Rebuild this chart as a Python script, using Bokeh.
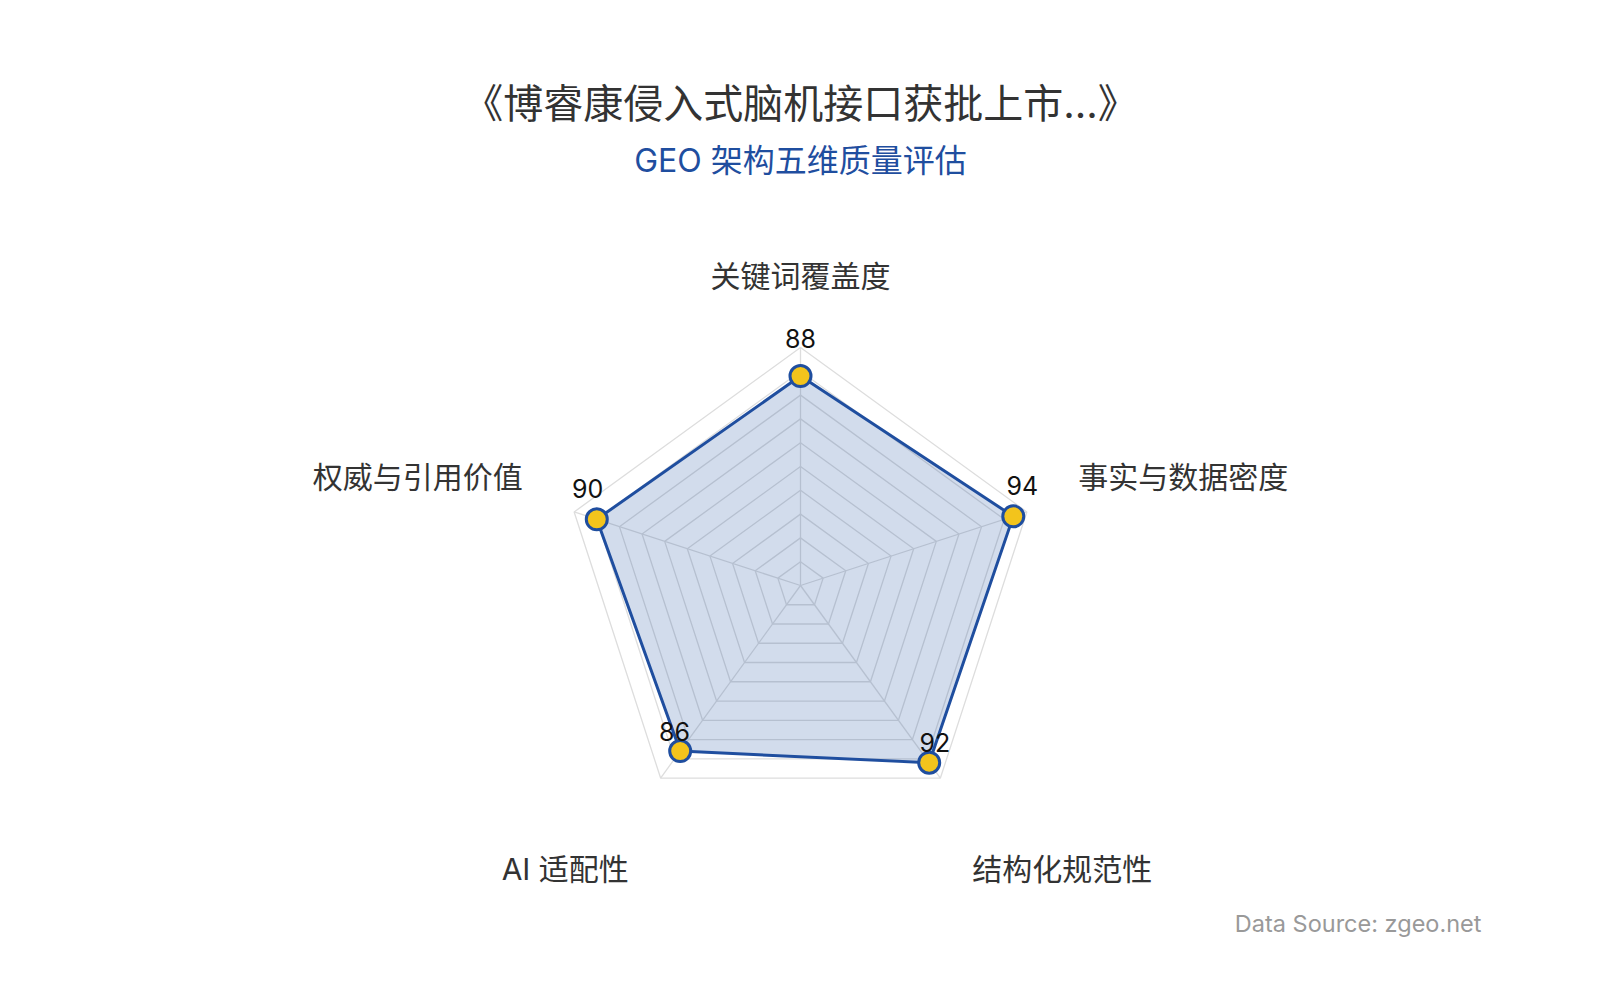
import numpy as np
from bokeh.plotting import figure
from bokeh.models import Range1d, ColumnDataSource
from bokeh.core.properties import value
from bokeh.embed import file_html
from bokeh.resources import INLINE

# 数据
dimensions = ["关键词覆盖度", "事实与数据密度", "结构化规范性", "AI 适配性", "权威与引用价值"]
scores = [88, 94, 92, 86, 90]
max_score = 100
levels = [10, 20, 30, 40, 50, 60, 70, 80, 90, 100]

title = "《博睿康侵入式脑机接口获批上市...》"
subtitle = "GEO 架构五维质量评估"
source_note = "Data Source: zgeo.net"

# 画布: 100 分 = 238 像素
W, H = 1584, 984
CX, CY = 800, 585
PX = max_score / 238.0

CJK = "Inter, 'Noto Sans CJK SC', sans-serif"
BLUE = "#1f4e9f"

p = figure(width=W, height=H, output_backend="svg", toolbar_location=None, tools="",
           x_axis_type=None, y_axis_type=None, min_border=0,
           x_range=Range1d(-CX * PX, (W - CX) * PX),
           y_range=Range1d(-(H - CY) * PX, CY * PX))
p.grid.visible = False
p.outline_line_color = None
p.background_fill_color = "white"
p.border_fill_color = "white"

n = len(dimensions)
ang = np.radians(90 - 360.0 / n * np.arange(n))
ca, sa = np.cos(ang), np.sin(ang)

# 网格环与轴线
for lv in levels:
    xs = list(lv * ca) + [lv * ca[0]]
    ys = list(lv * sa) + [lv * sa[0]]
    p.line(xs, ys, line_color="#dddddd", line_width=1.3)
for i in range(n):
    p.line([0, max_score * ca[i]], [0, max_score * sa[i]], line_color="#dddddd", line_width=1.3)

# 数据区域
sc = np.array(scores, dtype=float)
px_ = sc * ca
py_ = sc * sa
p.patch(list(px_), list(py_), fill_color=BLUE, fill_alpha=0.2, line_color=BLUE, line_width=3)
p.scatter(px_, py_, size=21, fill_color="#f3c41c", line_color=BLUE, line_width=3)

# 数值标签
lab = ColumnDataSource(dict(
    x=px_ + 9.5 * ca * PX,
    y=py_ + (28 + 10 * sa) * PX,
    t=[str(s) for s in scores]))
p.text("x", "y", text="t", source=lab, text_align="center", text_baseline="middle",
       text_font=value(CJK), text_font_size="25px", text_color="#111111")

# 维度名称
rl = max_score + 54 * PX
nx = rl * ca
ny = rl * sa - np.where(sa < 0, 29 * PX, 0)
aligns = ["center" if abs(c) < 0.01 else ("left" if c > 0 else "right") for c in ca]
bases = ["bottom" if s > 0 else "top" for s in sa]
for i in range(n):
    p.text([nx[i]], [ny[i]], text=[dimensions[i]], text_align=aligns[i], text_baseline=bases[i],
           text_font=value(CJK), text_font_size="30px", text_color="#333333")

# 标题、副标题、数据来源
p.text([0], [(CY - 103) * PX], text=[title], text_align="center", text_baseline="middle",
       text_font=value(CJK), text_font_size="40px", text_color="#333333")
p.text([0], [(CY - 160) * PX], text=[subtitle], text_align="center", text_baseline="middle",
       text_font=value(CJK), text_font_size="32px", text_color=BLUE)
p.text([(1481 - CX) * PX], [(CY - 923) * PX], text=[source_note], text_align="right",
       text_baseline="middle", text_font=value(CJK), text_font_size="23.5px", text_color="#999999")

open("out.html", "w").write(file_html(p, INLINE))
